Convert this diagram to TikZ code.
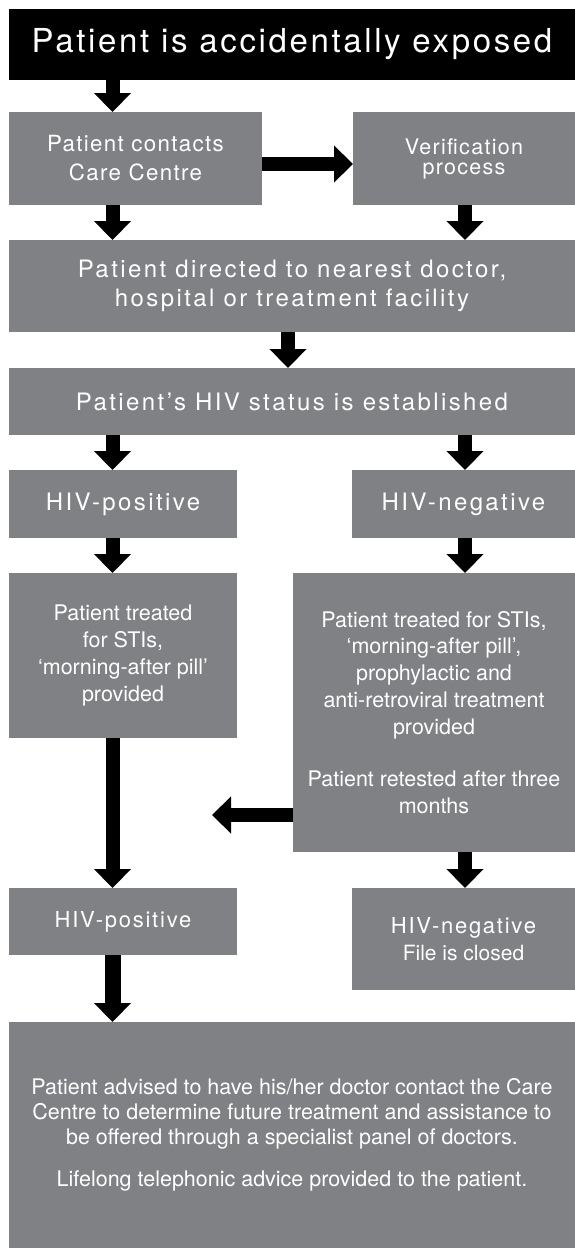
\documentclass[tikz,border=0pt]{standalone}
\usepackage{fontspec}
\setmainfont{TeX Gyre Heros}
\newfontfamily\titlefont[LetterSpace=8]{TeX Gyre Heros}
\newfontfamily\headfont[LetterSpace=10]{TeX Gyre Heros}
\newfontfamily\midfont[LetterSpace=6]{TeX Gyre Heros}
\newfontfamily\smallheadfont[LetterSpace=8]{TeX Gyre Heros}
\usetikzlibrary{arrows.meta}
\definecolor{boxgray}{RGB}{128,129,133}
\tikzset{
  box/.style={rectangle, fill=boxgray, text=white, align=center, anchor=north west, inner sep=0pt, outer sep=0pt},
  lighttext/.style={font=\rmfamily\fontsize{21.5}{26.7}\selectfont},
  headtext/.style={font=\headfont\fontsize{24}{29}\selectfont},
  smallhead/.style={font=\smallheadfont\fontsize{22}{27}\selectfont},
  blockarrow/.style={line width=14pt, -{Triangle[length=19pt, width=36pt]}},
}
\begin{document}
\begin{tikzpicture}[x=1pt, y=-1pt]
\useasboundingbox (0,0) rectangle (575,1248);
% columns of the arrows
\coordinate (lcol) at (112.5,0);
\coordinate (mcol) at (288,0);
\coordinate (rcol) at (465,0);
\coordinate (sidey) at (0,164);
\coordinate (backtip) at (212,815);

\node[box, fill=black, minimum width=566pt, minimum height=71pt, font=\titlefont\fontsize{33}{38}\selectfont] (exposed) at (9,9) {Patient is accidentally exposed};
\node[box, minimum width=253pt, minimum height=93pt, font=\midfont\fontsize{22.3}{29}\selectfont] (contact) at (9,112) {Patient contacts\\Care Centre};
\node[box, minimum width=222pt, minimum height=93pt, font=\midfont\fontsize{21.5}{20}\selectfont] (verify) at (353,112) {Verification\\process};
\node[box, headtext, minimum width=566pt, minimum height=92pt] (directed) at (9,240) {Patient directed to nearest doctor,\\hospital or treatment facility};
\node[box, headtext, minimum width=566pt, minimum height=67pt] (status) at (9,368) {Patient’s HIV status is established};
\node[box, headtext, minimum width=228pt, minimum height=68pt] (pos) at (9,470) {HIV-positive};
\node[box, headtext, minimum width=223pt, minimum height=68pt] (neg) at (352,470) {HIV-negative};
\node[box, lighttext, minimum width=228pt, minimum height=165pt] (treatpos) at (9,573) {Patient treated\\for STIs,\\‘morning-after pill’\\provided};
\node[box, lighttext, minimum width=282pt, minimum height=279pt] (treatneg) at (293,573) {Patient treated for STIs,\\‘morning-after pill’,\\prophylactic and\\anti-retroviral treatment\\provided\\[26pt]Patient retested after three\\months};
\node[box, smallhead, minimum width=228pt, minimum height=67pt] (retestpos) at (9,888) {HIV-positive};
\node[box, smallhead, minimum width=223pt, minimum height=102pt] (retestneg) at (352,888) {HIV-negative\\{\rmfamily\fontsize{21}{27}\selectfont File is closed}};
\node[box, font=\rmfamily\fontsize{21.5}{25}\selectfont, minimum width=566pt, minimum height=226pt] (advice) at (9,1022) {Patient advised to have his/her doctor contact the Care\\Centre to determine future treatment and assistance to\\be offered through a specialist panel of doctors.\\[17pt]Lifelong telephonic advice provided to the patient.};

\draw[blockarrow] (exposed.south -| lcol) -- (contact.north -| lcol);
\draw[blockarrow] (contact.east |- sidey) -- (verify.west |- sidey);
\draw[blockarrow] (contact.south -| lcol) -- (directed.north -| lcol);
\draw[blockarrow] (verify.south -| rcol) -- (directed.north -| rcol);
\draw[blockarrow] (directed.south -| mcol) -- (status.north -| mcol);
\draw[blockarrow] (status.south -| lcol) -- (pos.north -| lcol);
\draw[blockarrow] (status.south -| rcol) -- (neg.north -| rcol);
\draw[blockarrow] (pos.south -| lcol) -- (treatpos.north -| lcol);
\draw[blockarrow] (neg.south -| rcol) -- (treatneg.north -| rcol);
\draw[blockarrow] (treatpos.south -| lcol) -- (retestpos.north -| lcol); % long one past the side arrow
\draw[blockarrow] (treatneg.west |- backtip) -- (backtip);
\draw[blockarrow] (treatneg.south -| rcol) -- (retestneg.north -| rcol);
\draw[blockarrow, line width=16pt] (retestpos.south -| lcol) -- (advice.north -| lcol);
\end{tikzpicture}
\end{document}
